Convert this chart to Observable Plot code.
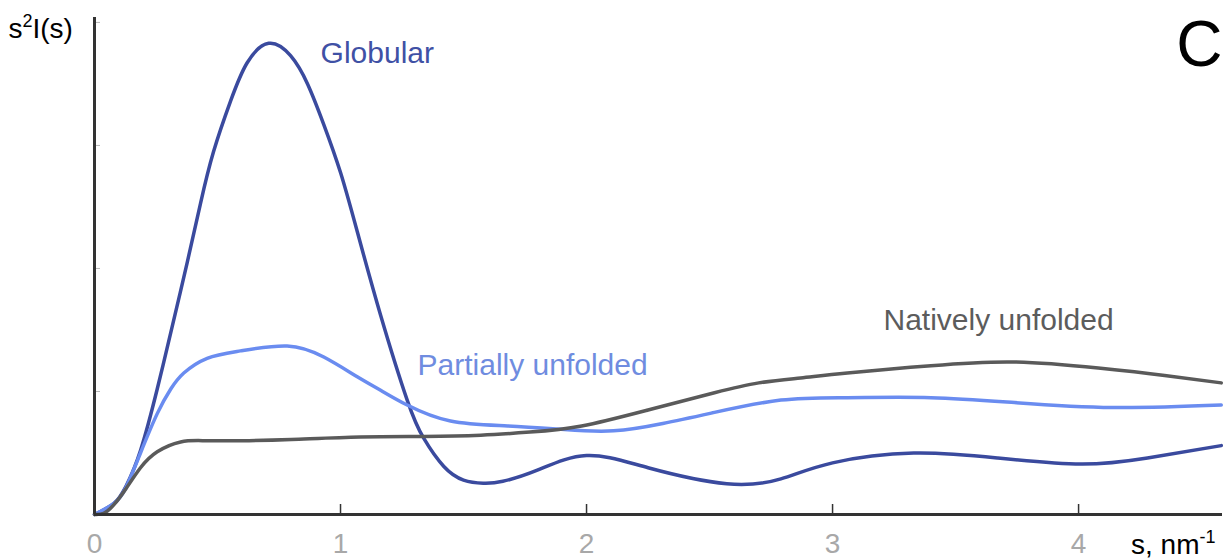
<!DOCTYPE html>
<html>
<head>
<meta charset="utf-8">
<script src="https://cdn.jsdelivr.net/npm/d3@7"></script>
<script src="https://cdn.jsdelivr.net/npm/@observablehq/plot@0.6"></script>
<style>
  html, body { margin: 0; padding: 0; background: #fff; }
  #chart { width: 1228px; height: 560px; }
</style>
</head>
<body>
<div id="chart"></div>
<script>
// ---- data (s in nm^-1, s^2 I(s) in arbitrary units) ----
const globular = [
  [0,0],[0.079,0.09],[0.128,0.23],[0.187,0.52],[0.255,1.02],[0.309,1.47],[0.377,2.05],
  [0.431,2.53],[0.484,2.95],[0.553,3.36],[0.62,3.67],[0.708,3.83],[0.797,3.73],[0.866,3.50],
  [0.932,3.17],[1.0,2.78],[1.068,2.30],[1.163,1.62],[1.271,0.93],[1.338,0.62],[1.42,0.39],
  [1.5,0.28],[1.58,0.255],[1.66,0.27],[1.8,0.36],[2.0,0.48],[2.25,0.38],[2.57,0.25],[2.79,0.29],
  [3.0,0.42],[3.33,0.50],[3.67,0.46],[4.01,0.41],[4.28,0.46],[4.58,0.56]
];
const partiallyUnfolded = [
  [0,0],[0.079,0.09],[0.128,0.22],[0.187,0.5],[0.255,0.82],[0.31,1.02],[0.363,1.15],
  [0.458,1.27],[0.593,1.33],[0.783,1.37],[0.932,1.28],[1.068,1.12],[1.163,1.01],[1.271,0.89],
  [1.447,0.76],[1.68,0.72],[1.91,0.69],[2.11,0.68],[2.31,0.74],[2.52,0.83],[2.79,0.93],
  [3.06,0.95],[3.40,0.95],[3.74,0.91],[4.14,0.87],[4.58,0.89]
];
const nativelyUnfolded = [
  [0,0],[0.038,0.01],[0.079,0.08],[0.128,0.21],[0.187,0.38],[0.255,0.51],[0.35,0.59],
  [0.45,0.60],[0.6,0.60],[0.8,0.61],[1.08,0.63],[1.34,0.635],[1.57,0.645],[1.77,0.67],
  [1.98,0.72],[2.25,0.85],[2.52,0.99],[2.70,1.07],[2.87,1.11],[3.06,1.15],[3.40,1.21],
  [3.74,1.24],[4.08,1.19],[4.35,1.13],[4.58,1.07]
];
const xTicks = [0, 1, 2, 3, 4];
const xTickMarks = [1, 2, 3, 4];
const yTicks = [1, 2, 3, 4];
const seriesNames = ["Globular", "Partially unfolded", "Natively unfolded"];
const labelAnchors = [[0.919, 3.667], [1.313, 1.13], [3.207, 1.496]];

// ---- styles ----
const colors = ["#3a4a9e", "#6a8cf0", "#5a5a5a"];
const labelColors = ["#3f51a5", "#6f8ce0", "#5c5c5c"];
const font = "'Liberation Sans', Arial, Helvetica, sans-serif";

const W = 1228, H = 560;
const mL = 94, mR = 6, mT = 17, mB = 46;
const frameW = W - mL - mR, frameH = H - mT - mB;

const series = [globular, partiallyUnfolded, nativelyUnfolded];
const rows = series.flatMap((arr, i) => arr.map(([s, v]) => ({s, v, name: seriesNames[i]})));
const labels = seriesNames.map((n, i) => ({name: n, s: labelAnchors[i][0], v: labelAnchors[i][1], c: labelColors[i]}));

const plot = Plot.plot({
  width: W, height: H,
  marginLeft: mL, marginRight: mR, marginTop: mT, marginBottom: mB,
  style: {fontFamily: font, background: "#fff", overflow: "visible"},
  x: {domain: [0, 4.585], axis: null},
  y: {domain: [0, 4.04], axis: null},
  color: {domain: seriesNames, range: colors},
  marks: [
    Plot.tickY(yTicks, {y: d => d, stroke: "#b8b8b8", strokeWidth: 1, insetRight: frameW - 6}),
    Plot.tickX(xTickMarks, {x: d => d, stroke: "#333", strokeWidth: 1.5, insetTop: frameH - 10}),
    Plot.axisX(xTicks, {tickSize: 0, tickPadding: 19, fontSize: 28, color: "#a8a8a8", fill: "#a8a8a8",
                        tickFormat: d => String(d), label: null}),
    Plot.line(rows, {x: "s", y: "v", z: "name", stroke: "name", strokeWidth: 3.5, curve: "natural"}),
    Plot.ruleX([0], {stroke: "#333", strokeWidth: 3}),
    Plot.ruleY([0], {stroke: "#333", strokeWidth: 3}),
    Plot.text(labels, {x: "s", y: "v", text: "name", fill: "c", fontSize: 30, textAnchor: "start", lineAnchor: "bottom"}),
    Plot.text(["C"], {frameAnchor: "top-right", dx: 0, dy: 48, fontSize: 64, fill: "#000", textAnchor: "end", lineAnchor: "bottom"}),
    Plot.text(["YLABEL"], {frameAnchor: "top-left", dx: -86, dy: 20, fontSize: 28, fill: "#000", textAnchor: "start", lineAnchor: "bottom"}),
    Plot.text(["XLABEL"], {frameAnchor: "bottom-right", dx: -7, dy: 39, fontSize: 28, fill: "#000", textAnchor: "end", lineAnchor: "bottom"})
  ]
});

// rich text with superscripts
d3.select(plot).selectAll("text").each(function() {
  const t = d3.select(this);
  const txt = this.textContent;
  if (txt === "YLABEL") {
    t.text(null);
    t.append("tspan").text("s");
    t.append("tspan").attr("font-size", 18).attr("dy", -11).text("2");
    t.append("tspan").attr("dy", 11).text("I(s)");
  } else if (txt === "XLABEL") {
    t.text(null);
    t.append("tspan").text("s, nm");
    t.append("tspan").attr("font-size", 18).attr("dy", -11).text("-1");
  }
});

document.getElementById("chart").appendChild(plot);
</script>
</body>
</html>
